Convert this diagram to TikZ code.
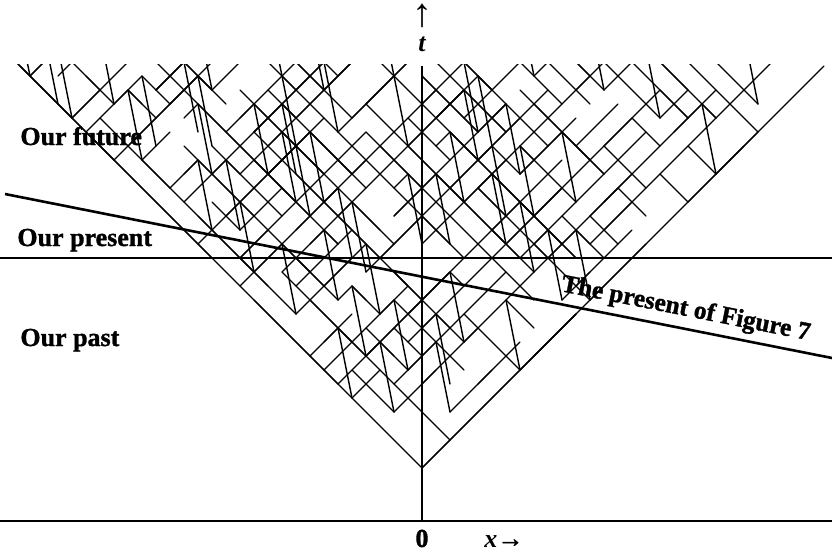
\documentclass[tikz,border=0pt]{standalone}
\usepackage{fontspec}
\setmainfont{Liberation Serif}[BoldFeatures={FakeBold=1.3}]
\newcommand{\wseg}[4]{%
 \pgfmathsetmacro{\wXa}{422+((#1)-(#2))*14}%
 \pgfmathsetmacro{\wYa}{468-((#1)+(#2))*14}%
 \pgfmathsetmacro{\wXb}{422+((#3)-(#4))*14}%
 \pgfmathsetmacro{\wYb}{468-((#3)+(#4))*14}%
 \draw[wl] (\wXa,\wYa) -- (\wXb,\wYb);}
\begin{document}
\begin{tikzpicture}[x=0.5pt,y=-0.5pt,
  wl/.style={line width=0.7pt,black,line cap=round},
  lbl/.style={font=\fontsize{13}{15}\selectfont\bfseries,inner sep=0pt},
  axisline/.style={line width=0.9pt,black},
  fig7/.style={line width=1.3pt,black}]
\useasboundingbox (0,0) rectangle (832,553);
\begin{scope}
\clip (422,471) -- (15,64) -- (829,64) -- cycle;
\pgfmathsetseed{4242}
% long light rays
\foreach \k in {0,...,28}{
  \pgfmathrandominteger{\sa}{0}{16}
  \pgfmathrandominteger{\la}{4}{13}
  \wseg{\sa}{\k}{\sa+\la}{\k}
  \pgfmathrandominteger{\sb}{0}{16}
  \pgfmathrandominteger{\lb}{4}{13}
  \wseg{\k}{\sb}{\k}{\sb+\lb}
}
% events with rays
\foreach \I in {0,...,14}{
 \foreach \J in {0,...,14}{
  \pgfmathtruncatemacro{\S}{\I+\J}
  \ifnum\S<15
   \pgfmathrandominteger{\ri}{0}{1}
   \pgfmathrandominteger{\rj}{0}{1}
   \pgfmathtruncatemacro{\qi}{2*\I+\ri}
   \pgfmathtruncatemacro{\qj}{2*\J+\rj}
   \pgfmathrandominteger{\rc}{0}{4}
   \pgfmathrandominteger{\rd}{0}{4}
   \pgfmathrandominteger{\rv}{0}{9}
   \ifnum\rc>1 \wseg{\qi}{\qj}{\qi}{\qj+\rc}\fi
   \ifnum\rd>1 \wseg{\qi}{\qj}{\qi+\rd}{\qj}\fi
   \ifnum\rv<5
     \pgfmathtruncatemacro{\pki}{\qi+2}
     \pgfmathtruncatemacro{\pkj}{\qj+3}
     \wseg{\qi}{\qj}{\pki}{\pkj}
     \pgfmathrandominteger{\ra}{1}{3}
     \pgfmathrandominteger{\rb}{1}{3}
     \wseg{\pki-\ra}{\pkj}{\pki}{\pkj}
     \wseg{\pki}{\pkj-\rb}{\pki}{\pkj}
   \fi
  \fi
 }
}
\draw[wl] (20,66) -- (422,468) -- (824,66);
\end{scope}
% axes and present lines
\coordinate (tTop) at (422,66);
\coordinate (tBot) at (422,521);
\coordinate (xL) at (0,521);
\coordinate (xR) at (832,521);
\coordinate (pL) at (0,258);
\coordinate (pR) at (832,258);
\coordinate (fL) at (5,194);
\coordinate (fR) at (832,358);
\draw[axisline] (tTop) -- (tBot);
\draw[axisline] (xL) -- (xR);
\draw[line width=0.8pt] (pL) -- (pR);
\draw[fig7] (fL) -- (fR);
% labels
\node[lbl,anchor=base west] (fut) at (20,145) {Our future};
\node[lbl,anchor=base west] (pres) at (17,246) {Our present};
\node[lbl,anchor=base west] (past) at (20,346) {Our past};
\node[lbl,anchor=base west,rotate=-11.2,font=\fontsize{12.7}{15}\selectfont\bfseries] (f7) at (560,291) {The present of Figure 7};
\node[inner sep=0pt,align=center,anchor=south] (tlab) at (422,52)
  {{\fontsize{20}{14}\selectfont ↑}\\[0.5pt]{\fontsize{13}{15}\selectfont\bfseries\itshape t}};
\node[lbl,anchor=base] (zero) at (422,547) {0};
\node[lbl,anchor=base west] (xlab) at (484,547) {\itshape x\upshape→};
\end{tikzpicture}
\end{document}
